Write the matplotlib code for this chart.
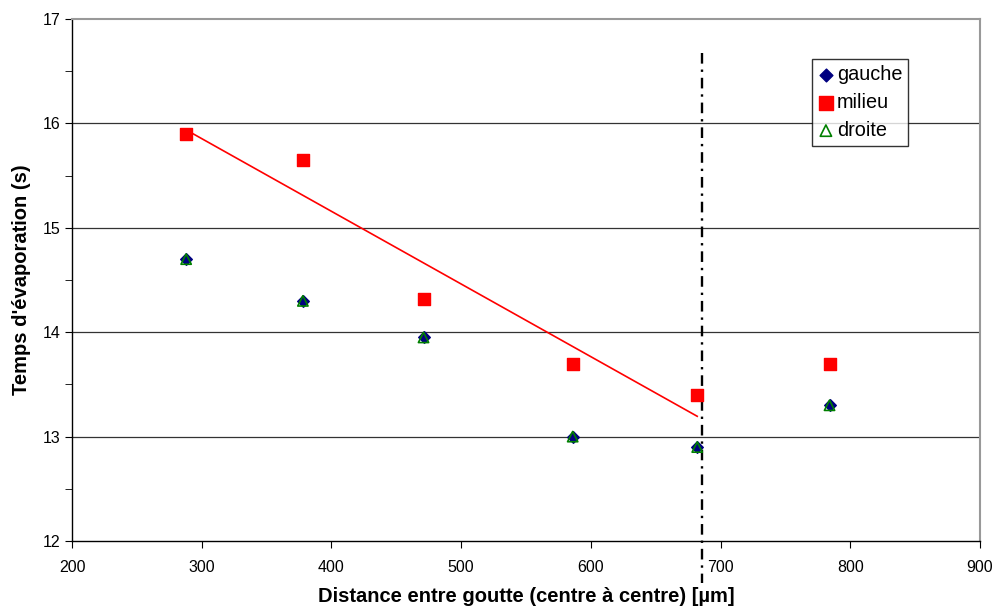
import numpy as np
import matplotlib
matplotlib.use("Agg")
import matplotlib.pyplot as plt
from matplotlib.ticker import MultipleLocator

plt.rcParams['font.family'] = ['Liberation Sans', 'DejaVu Sans']

distance = [288, 378, 471, 586, 682, 784]
gauche = [14.7, 14.3, 13.95, 13.0, 12.9, 13.3]
milieu = [15.9, 15.65, 14.32, 13.7, 13.4, 13.7]
droite = [14.7, 14.3, 13.95, 13.0, 12.9, 13.3]
limit_x = 686
fit_n = 5

fig = plt.figure(figsize=(9.96, 6.08), dpi=100)
ax = fig.add_axes([72/996, 67/608, 908/996, 522/608])

ax.set_xlim(200, 900)
ax.set_ylim(12, 17)
ax.yaxis.set_major_locator(MultipleLocator(1))
ax.yaxis.set_minor_locator(MultipleLocator(0.5))
ax.xaxis.set_major_locator(MultipleLocator(100))

for y in range(13, 17):
    ax.axhline(y, color='#333333', lw=0.9, zorder=1)

# trend line on milieu (first points)
c = np.polyfit(distance[:fit_n], milieu[:fit_n], 1)
xs = np.array([distance[0], distance[fit_n-1]])
ax.plot(xs, np.polyval(c, xs), color='red', lw=1.2, zorder=2)

ax.plot([limit_x, limit_x], [16.67, 11.6], color='black', lw=1.7,
        linestyle=(0, (4.5, 2.5, 1, 2.5)), clip_on=False, zorder=3)

ax.scatter(distance, milieu, marker='s', s=80, color='#ff0000', zorder=4, label='milieu')
ax.scatter(distance, droite, marker='^', s=55, facecolors='none', edgecolors='#008000',
           linewidths=1.2, zorder=5, label='droite')
ax.scatter(distance, gauche, marker='D', s=35, color='#000080', zorder=4, label='gauche')

for s in ['top', 'right']:
    ax.spines[s].set_color('#999999')
    ax.spines[s].set_linewidth(1.5)
for s in ['left', 'bottom']:
    ax.spines[s].set_color('black')
    ax.spines[s].set_linewidth(1.0)

ax.tick_params(axis='both', which='major', direction='out', length=5, labelsize=11.5, colors='black')
ax.tick_params(axis='y', which='minor', direction='out', length=5)
ax.tick_params(axis='x', pad=9)

ax.set_xlabel("Distance entre goutte (centre à centre) [µm]", fontsize=14.5, fontweight='bold', labelpad=8)
ax.set_ylabel("Temps d'évaporation (s)", fontsize=14.5, fontweight='bold', labelpad=8)

h, l = ax.get_legend_handles_labels()
order = [l.index('gauche'), l.index('milieu'), l.index('droite')]
leg = ax.legend([h[i] for i in order], [l[i] for i in order],
                loc='upper left', frameon=True, fancybox=False,
                edgecolor='black', fontsize=14.3, handlelength=0.8, handletextpad=0.15,
                borderpad=0.3, labelspacing=0.45, borderaxespad=0, markerscale=1.1)
leg.get_frame().set_linewidth(1.0)
leg.set_bbox_to_anchor(((812-72)/908, 1 - (59-19)/522), transform=ax.transAxes)

fig.savefig("out.png", dpi=100)
